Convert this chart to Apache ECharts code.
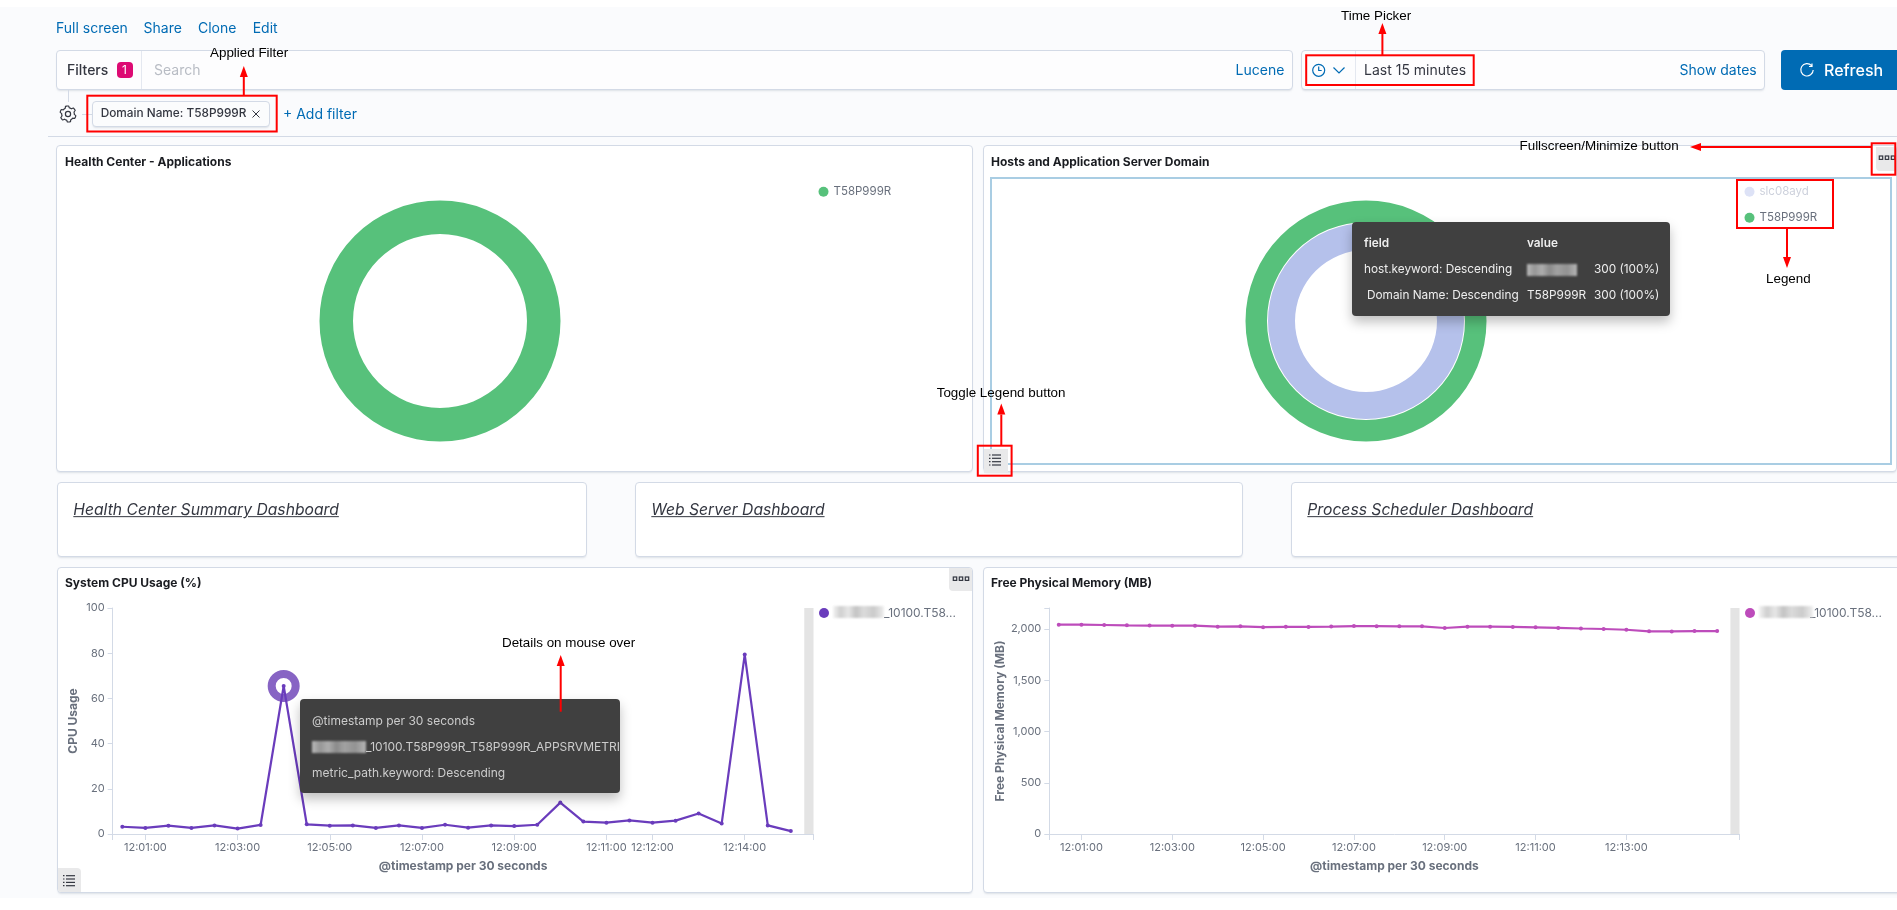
<!DOCTYPE html>
<html>
<head>
<meta charset="utf-8">
<title>Health Center</title>
<script src="https://cdn.jsdelivr.net/npm/echarts@6/dist/echarts.min.js"></script>
<style>
html, body { margin: 0; padding: 0; background: #fff; overflow: hidden; font-family: Inter, sans-serif; }
#page { position: relative; width: 1897px; height: 910px; overflow: hidden; }
#bg { position: absolute; left: 0; top: 7px; width: 1897px; height: 891px; background: #fafbfd; }
#main { position: absolute; left: 0; top: 0; width: 1897px; height: 910px; z-index: 1; }
#over { position: absolute; left: 0; top: 0; width: 1897px; height: 910px; z-index: 2; }
.box { position: absolute; box-sizing: border-box; background: #fff; border: 1px solid #d3dae6; border-radius: 4px; box-shadow: 0 2px 2px -1px rgba(152,162,179,.3); }
.t { position: absolute; white-space: nowrap; transform: translateY(-50%); line-height: 1; }
.note { font-family: "Liberation Sans", sans-serif; font-size: 13.4px; color: #000; }
.blue { color: #006bb4; font-size: 14px; }
.title { font-size: 12px; font-weight: 700; color: #1a1c21; }
.link { font-size: 15.7px; font-style: italic; color: #343741; text-decoration: underline; }
.tip { position: absolute; background: #404040; border-radius: 4px; box-shadow: 0 6px 12px rgba(0,0,0,.25); overflow: hidden; }
.blurred { position: absolute; height: 12px; transform: translateY(-50%); filter: blur(1px); opacity: .7;
  background: linear-gradient(90deg, #eee 0, #bbb 15%, #ddd 30%, #aaa 45%, #ccc 60%, #b5b5b5 80%, #e8e8e8 100%); }
</style>
</head>
<body>
<div id="page">
  <div id="bg"></div>
  <div id="under"></div>
  <div id="main"></div>
  <div id="over"></div>
</div>
<script>
var timeLabels = ['12:00:30','12:01:00','12:01:30','12:02:00','12:02:30','12:03:00','12:03:30','12:04:00','12:04:30','12:05:00',
    '12:05:30','12:06:00','12:06:30','12:07:00','12:07:30','12:08:00','12:08:30','12:09:00','12:09:30','12:10:00',
    '12:10:30','12:11:00','12:11:30','12:12:00','12:12:30','12:13:00','12:13:30','12:14:00','12:14:30','12:15:00'];
var cpuUsage = [3.2,2.7,3.7,2.7,3.8,2.4,4.0,65.5,4.3,3.7,3.8,2.7,3.8,2.7,4.1,2.8,3.8,3.5,4.1,13.9,5.5,5.0,6.0,5.0,5.9,9.1,4.6,79.4,3.8,1.3];
var freeMemory = [2042,2042,2039,2036,2034,2033,2033,2023,2026,2018,2021,2020,2024,2029,2028,2026,2026,2010,2023,2023,2020,2016,2011,2005,2000,1993,1977,1976,1980,1980];
var cpuTicks = ['12:01:00','12:03:00','12:05:00','12:07:00','12:09:00','12:11:00','12:12:00','12:14:00'];
var memTicks = ['12:01:00','12:03:00','12:05:00','12:07:00','12:09:00','12:11:00','12:13:00'];
var cpuYTicks = [0,20,40,60,80,100];
var memYTicks = [0,500,1000,1500,2000];
var domainCounts = [{name: 'T58P999R', value: 300}];
var hostCounts = [{name: 'slc08ayd', value: 300}];
var lineLegend = '_10100.T58...';

function toSec(t) {
    var p = t.split(':');
    return p[0] * 3600 + p[1] * 60 + parseFloat(p[2]);
}
function toClock(s) {
    var pad = function (n) { return (n < 10 ? '0' : '') + n; };
    return pad(Math.floor(s / 3600)) + ':' + pad(Math.floor(s / 60) % 60) + ':' + pad(Math.floor(s % 60));
}
function pairs(values) {
    return values.map(function (v, i) { return [toSec(timeLabels[i]), v]; });
}

var xMin = toSec('12:00:17.5'), xMax = toSec('12:15:29.5');
var axisColor = '#d3dae6', labelColor = '#69707d';

function timeAxis(gridIndex, ticks) {
    var secs = ticks.map(toSec);
    return {
        type: 'value', gridIndex: gridIndex, min: xMin, max: xMax,
        name: '@timestamp per 30 seconds', nameLocation: 'middle', nameGap: 26,
        nameTextStyle: {fontFamily: 'Inter', fontSize: 12, fontWeight: 700, color: labelColor},
        axisLine: {lineStyle: {color: axisColor}},
        axisTick: {length: 6, lineStyle: {color: axisColor}, customValues: [xMin].concat(secs, [xMax])},
        axisLabel: {
            customValues: secs, hideOverlap: false, margin: 8,
            fontFamily: 'Inter', fontSize: 11, color: labelColor,
            formatter: function (v) { return toClock(v); }
        },
        splitLine: {show: false}
    };
}
function valueAxis(gridIndex, name, max, ticks, nameGap) {
    return {
        type: 'value', gridIndex: gridIndex, min: 0, max: max,
        name: name, nameLocation: 'middle', nameGap: nameGap,
        nameTextStyle: {fontFamily: 'Inter', fontSize: 12, fontWeight: 700, color: labelColor},
        axisLine: {show: true, lineStyle: {color: axisColor}},
        axisTick: {show: true, length: 5, lineStyle: {color: axisColor}, customValues: ticks.concat([max])},
        axisLabel: {customValues: ticks, margin: 8, fontFamily: 'Inter', fontSize: 11, color: labelColor,
            formatter: function (v) { return v.toLocaleString('en-US'); }},
        splitLine: {show: false}
    };
}
function lineSeries(values, color, idx) {
    return {
        type: 'line', name: lineLegend, xAxisIndex: idx, yAxisIndex: idx, data: pairs(values), z: 3,
        symbol: 'circle', symbolSize: 4, showSymbol: true, showAllSymbol: true,
        lineStyle: {color: color, width: 2.2}, itemStyle: {color: color},
        markArea: {
            silent: true, itemStyle: {color: '#e4e4e4', opacity: 1},
            data: [[{xAxis: toSec('12:15:17.5')}, {xAxis: xMax}]]
        }
    };
}
function lineLegendCfg(left, color) {
    return {
        left: left, top: 607, padding: 0, icon: 'circle', itemWidth: 10, itemHeight: 10,
        data: [{name: lineLegend, itemStyle: {color: color}}],
        textStyle: {fontFamily: 'Inter', fontSize: 12, color: labelColor, padding: [0, 0, 0, 50]}
    };
}
var pieLabel = {show: false};

var chart = echarts.init(document.getElementById('main'));
chart.setOption({
    animation: false,
    color: ['#57c17b'],
    grid: [
        {left: 112.7, top: 608, width: 700.8, height: 226},
        {left: 1049.3, top: 608, width: 690.2, height: 226}
    ],
    xAxis: [timeAxis(0, cpuTicks), timeAxis(1, memTicks)],
    yAxis: [
        valueAxis(0, 'CPU Usage', 100, cpuYTicks, 33),
        valueAxis(1, 'Free Physical Memory (MB)', 2205, memYTicks, 43)
    ],
    legend: [
        {left: 818.5, top: 185.7, padding: 0, icon: 'circle', itemWidth: 10, itemHeight: 10,
            data: ['T58P999R'], textStyle: {fontFamily: 'Inter', fontSize: 11.5, color: labelColor}},
        {left: 1744.5, top: 185.7, padding: 0, orient: 'vertical', itemGap: 14, icon: 'circle', itemWidth: 10, itemHeight: 10,
            data: [
                {name: 'slc08ayd', itemStyle: {color: '#dde2f6'}, textStyle: {color: '#cdd1dc'}},
                {name: 'T58P999R'}
            ],
            textStyle: {fontFamily: 'Inter', fontSize: 11.5, color: labelColor}},
        lineLegendCfg(819, '#6a3cbc'),
        lineLegendCfg(1745, '#bd4cbb')
    ],
    series: [
        {type: 'pie', center: [440, 321], radius: [87, 120.5], data: domainCounts, label: pieLabel, silent: true,
            itemStyle: {color: '#57c17b'}},
        {type: 'pie', center: [1366, 321], radius: [99, 120.5], data: domainCounts, label: pieLabel, silent: true,
            itemStyle: {color: '#57c17b'}},
        {type: 'pie', center: [1366, 321], radius: [71, 98], data: hostCounts, label: pieLabel, silent: true,
            itemStyle: {color: '#b5c1eb'}},
        // hover ring of the spike sits under the line
        {type: 'scatter', xAxisIndex: 0, yAxisIndex: 0, z: 1, silent: true, symbolSize: 24,
            data: [pairs(cpuUsage)[7]],
            itemStyle: {color: '#fff', borderColor: '#8764c4', borderWidth: 8, opacity: 1}},
        lineSeries(cpuUsage, '#6a3cbc', 0),
        lineSeries(freeMemory, '#bd4cbb', 1)
    ]
});

// dashboard chrome around the chart
var panels = [
    [56, 145, 917, 327], [983, 145, 914, 327],
    [57, 481.5, 530, 75.5], [635, 481.5, 608, 75.5], [1291, 481.5, 610, 75.5],
    [57, 566.7, 916, 326.3], [983, 566.7, 918, 326.3]
];
var under = document.getElementById('under');
var over = document.getElementById('over');

function el(parent, cls, css, html) {
    var d = document.createElement('div');
    d.className = cls;
    d.style.cssText = css;
    if (html) d.innerHTML = html;
    parent.appendChild(d);
    return d;
}
function rect(parent, x, y, w, h, extra) {
    return el(parent, '', 'position:absolute;left:' + x + 'px;top:' + y + 'px;width:' + w + 'px;height:' + h + 'px;' + (extra || ''));
}
function label(parent, x, y, s, cls, css) {
    return el(parent, 't ' + (cls || ''), 'left:' + x + 'px;top:' + y + 'px;' + (css || ''), s);
}
function patch(parent, x, y, w) {
    return el(parent, 'blurred', 'left:' + x + 'px;top:' + y + 'px;width:' + w + 'px;');
}

panels.forEach(function (p) {
    el(under, 'box', 'left:' + p[0] + 'px;top:' + p[1] + 'px;width:' + p[2] + 'px;height:' + p[3] + 'px;');
});
el(under, 'box', 'left:56px;top:50px;width:1237px;height:40px;background:#fdfdfe;');
el(under, 'box', 'left:1301px;top:50px;width:464px;height:40px;background:#fdfdfe;');
rect(under, 48, 136, 1849, 1, 'background:#d3dae6;');
rect(under, 141, 51, 1, 38, 'background:#e4e8f0;');
rect(under, 1355, 51, 1, 38, 'background:#e4e8f0;');
rect(under, 68, 90, 1, 12, 'background:#d3dae6;');
rect(under, 82, 114, 10, 1, 'background:#d3dae6;');
rect(under, 990, 176.5, 902, 288.5, 'box-sizing:border-box;border:2px solid #a9cde3;');
el(under, 'box', 'left:92.3px;top:100.7px;width:178px;height:26.7px;background:#fbfcfd;');

[['Full screen', 56], ['Share', 143.6], ['Clone', 198], ['Edit', 252.7]].forEach(function (n) {
    label(over, n[1], 28.3, n[0], 'blue');
});
label(over, 67, 70, 'Filters', '', 'font-size:14px;font-weight:500;color:#343741;');
rect(over, 117, 62, 16, 16, 'background:#dd0a73;border-radius:4px;');
label(over, 122, 70, '1', '', 'font-size:12px;color:#fff;');
label(over, 154, 70, 'Search', '', 'font-size:14px;color:#b8bcc4;');
label(over, 1235.6, 70, 'Lucene', 'blue');
label(over, 1364, 70, 'Last 15 minutes', '', 'font-size:14px;color:#343741;');
label(over, 1679.5, 70, 'Show dates', 'blue');
rect(over, 1781, 50, 116, 40, 'background:#006bb4;border-radius:4px 0 0 4px;');
label(over, 1824, 70, 'Refresh', '', 'font-size:16px;font-weight:500;color:#fff;');
label(over, 100.7, 114.4, 'Domain Name: T58P999R', '', 'font-size:11.8px;font-weight:500;color:#343741;');
label(over, 283, 114, '+ Add filter', 'blue');

label(over, 65, 161.7, 'Health Center - Applications', 'title');
label(over, 991, 161.7, 'Hosts and Application Server Domain', 'title');
label(over, 65, 582.7, 'System CPU Usage (%)', 'title');
label(over, 991, 582.7, 'Free Physical Memory (MB)', 'title');
label(over, 73.3, 510, 'Health Center Summary Dashboard', 'link');
label(over, 651.3, 510, 'Web Server Dashboard', 'link');
label(over, 1307.3, 510, 'Process Scheduler Dashboard', 'link');

patch(over, 833, 611.7, 51);
patch(over, 1759, 611.7, 54);

// grey hover buttons
rect(over, 1875.5, 147, 19.5, 23.5, 'background:#e9e9ea;border-radius:0 0 0 4px;');
rect(over, 949, 567.5, 23, 23.5, 'background:#e9e9ea;border-radius:0 3px 0 4px;');
rect(over, 984, 449, 23.5, 24, 'background:#e9e9ea;');
rect(over, 58, 868, 23, 24, 'background:#e9e9ea;border-radius:0 4px 0 3px;');

// icons
var svg = '<svg xmlns="http://www.w3.org/2000/svg" width="1897" height="910" style="position:absolute;left:0;top:0" fill="none" stroke-width="1.2">';
function dots(cx, cy) {
    var s = '';
    [-6, 0, 6].forEach(function (d) {
        s += '<rect x="' + (cx + d - 1.7) + '" y="' + (cy - 1.7) + '" width="3.4" height="3.4" stroke="#343741"/>';
    });
    return s;
}
function listIcon(cx, cy) {
    var s = '';
    [-5, -1.7, 1.7, 5].forEach(function (d) {
        s += '<line x1="' + (cx - 6) + '" x2="' + (cx - 4.5) + '" y1="' + (cy + d) + '" y2="' + (cy + d) + '" stroke="#343741"/>';
        s += '<line x1="' + (cx - 3) + '" x2="' + (cx + 6) + '" y1="' + (cy + d) + '" y2="' + (cy + d) + '" stroke="#343741"/>';
    });
    return s;
}
function gear(cx, cy) {
    var pts = [];
    for (var i = 0; i < 48; i++) {
        var a = i / 48 * Math.PI * 2, r = (i % 8 < 4) ? 8 : 6.3;
        pts.push((cx + r * Math.cos(a + 0.2)).toFixed(1) + ',' + (cy + r * Math.sin(a + 0.2)).toFixed(1));
    }
    return '<polygon points="' + pts.join(' ') + '" stroke="#343741" stroke-linejoin="round"/><circle cx="' + cx + '" cy="' + cy + '" r="2.6" stroke="#343741"/>';
}
svg += dots(1887, 157.7) + dots(961, 578.7) + listIcon(995, 460) + listIcon(69, 880.7) + gear(68, 114);
// clock, chevron, refresh, close
svg += '<circle cx="1318.7" cy="70.3" r="6" stroke="#006bb4"/><path d="M1318.7 66.5v4h3" stroke="#006bb4"/>';
svg += '<path d="M1333.5 67.5l5.5 5.5 5.5-5.5" stroke="#006bb4"/>';
svg += '<path d="M1811.5 65.5a6.2 6.2 0 1 0 1.7 4.5M1812 63.5v3h-3" stroke="#fff" stroke-width="1.2"/>';
svg += '<path d="M252.5 110.5l7 7M259.5 110.5l-7 7" stroke="#343741" stroke-width="1"/>';

// red annotation boxes and arrows
var redBoxes = [[87.3, 95.7, 189.4, 35.8], [1306.2, 55.3, 167.5, 29.7], [1871.7, 143.3, 23.6, 31.4], [1737, 180, 96, 48], [977.8, 445.7, 33.8, 30]];
var redArrows = [[243.8, 96, 243.8, 66], [1382.4, 55, 1382.4, 23], [1872, 147, 1690, 147], [1787, 228, 1787, 268], [1001.3, 445.7, 1001.3, 403.5], [560.7, 711.7, 560.7, 655]];
redBoxes.forEach(function (b) {
    svg += '<rect x="' + b[0] + '" y="' + b[1] + '" width="' + b[2] + '" height="' + b[3] + '" stroke="#f00" stroke-width="2"/>';
});
var arrowSvg = '';
redArrows.forEach(function (a) {
    var dx = a[2] - a[0], dy = a[3] - a[1], len = Math.sqrt(dx * dx + dy * dy), ux = dx / len, uy = dy / len;
    var bx = a[2] - ux * 11, by = a[3] - uy * 11;
    arrowSvg += '<line x1="' + a[0] + '" y1="' + a[1] + '" x2="' + bx + '" y2="' + by + '" stroke="#f00" stroke-width="2"/>';
    arrowSvg += '<polygon fill="#f00" points="' + a[2] + ',' + a[3] + ' ' + (bx - uy * 4) + ',' + (by + ux * 4) + ' ' + (bx + uy * 4) + ',' + (by - ux * 4) + '"/>';
});
svg += '</svg>';
rect(over, 0, 0, 1, 1).innerHTML = svg;

// donut tooltip
var tip1 = el(over, 'tip', 'left:1352px;top:222px;width:318px;height:94px;color:#eee;font-size:11.8px;');
label(tip1, 12, 22, 'field', '', 'font-weight:600;');
label(tip1, 175, 22, 'value', '', 'font-weight:600;');
label(tip1, 12, 48, 'host.keyword: Descending');
patch(tip1, 175, 48, 50);
label(tip1, 242, 48, '300 (100%)');
label(tip1, 15, 74, 'Domain Name: Descending');
label(tip1, 175, 74, 'T58P999R');
label(tip1, 242, 74, '300 (100%)');

// line tooltip
var tip2 = el(over, 'tip', 'left:300px;top:699px;width:320px;height:94px;color:#ccc;font-size:12px;');
label(tip2, 12, 21.5, '@timestamp per 30 seconds');
patch(tip2, 12, 47.5, 54);
label(tip2, 66, 47.5, '_10100.T58P999R_T58P999R_APPSRVMETRICS');
label(tip2, 12, 73.5, 'metric_path.keyword: Descending');

// annotations go on top of everything
rect(over, 0, 0, 1, 1).innerHTML = '<svg xmlns="http://www.w3.org/2000/svg" width="1897" height="910" style="position:absolute;left:0;top:0">' + arrowSvg + '</svg>';
label(over, 210, 53.3, 'Applied Filter', 'note');
label(over, 1341, 16.3, 'Time Picker', 'note');
label(over, 1519.5, 145.7, 'Fullscreen/Minimize button', 'note');
label(over, 1766, 279, 'Legend', 'note');
label(over, 936.7, 392.7, 'Toggle Legend button', 'note');
label(over, 502, 643.3, 'Details on mouse over', 'note');

window.addEventListener('resize', function () {
    chart.resize();
});
</script>
</body>
</html>
